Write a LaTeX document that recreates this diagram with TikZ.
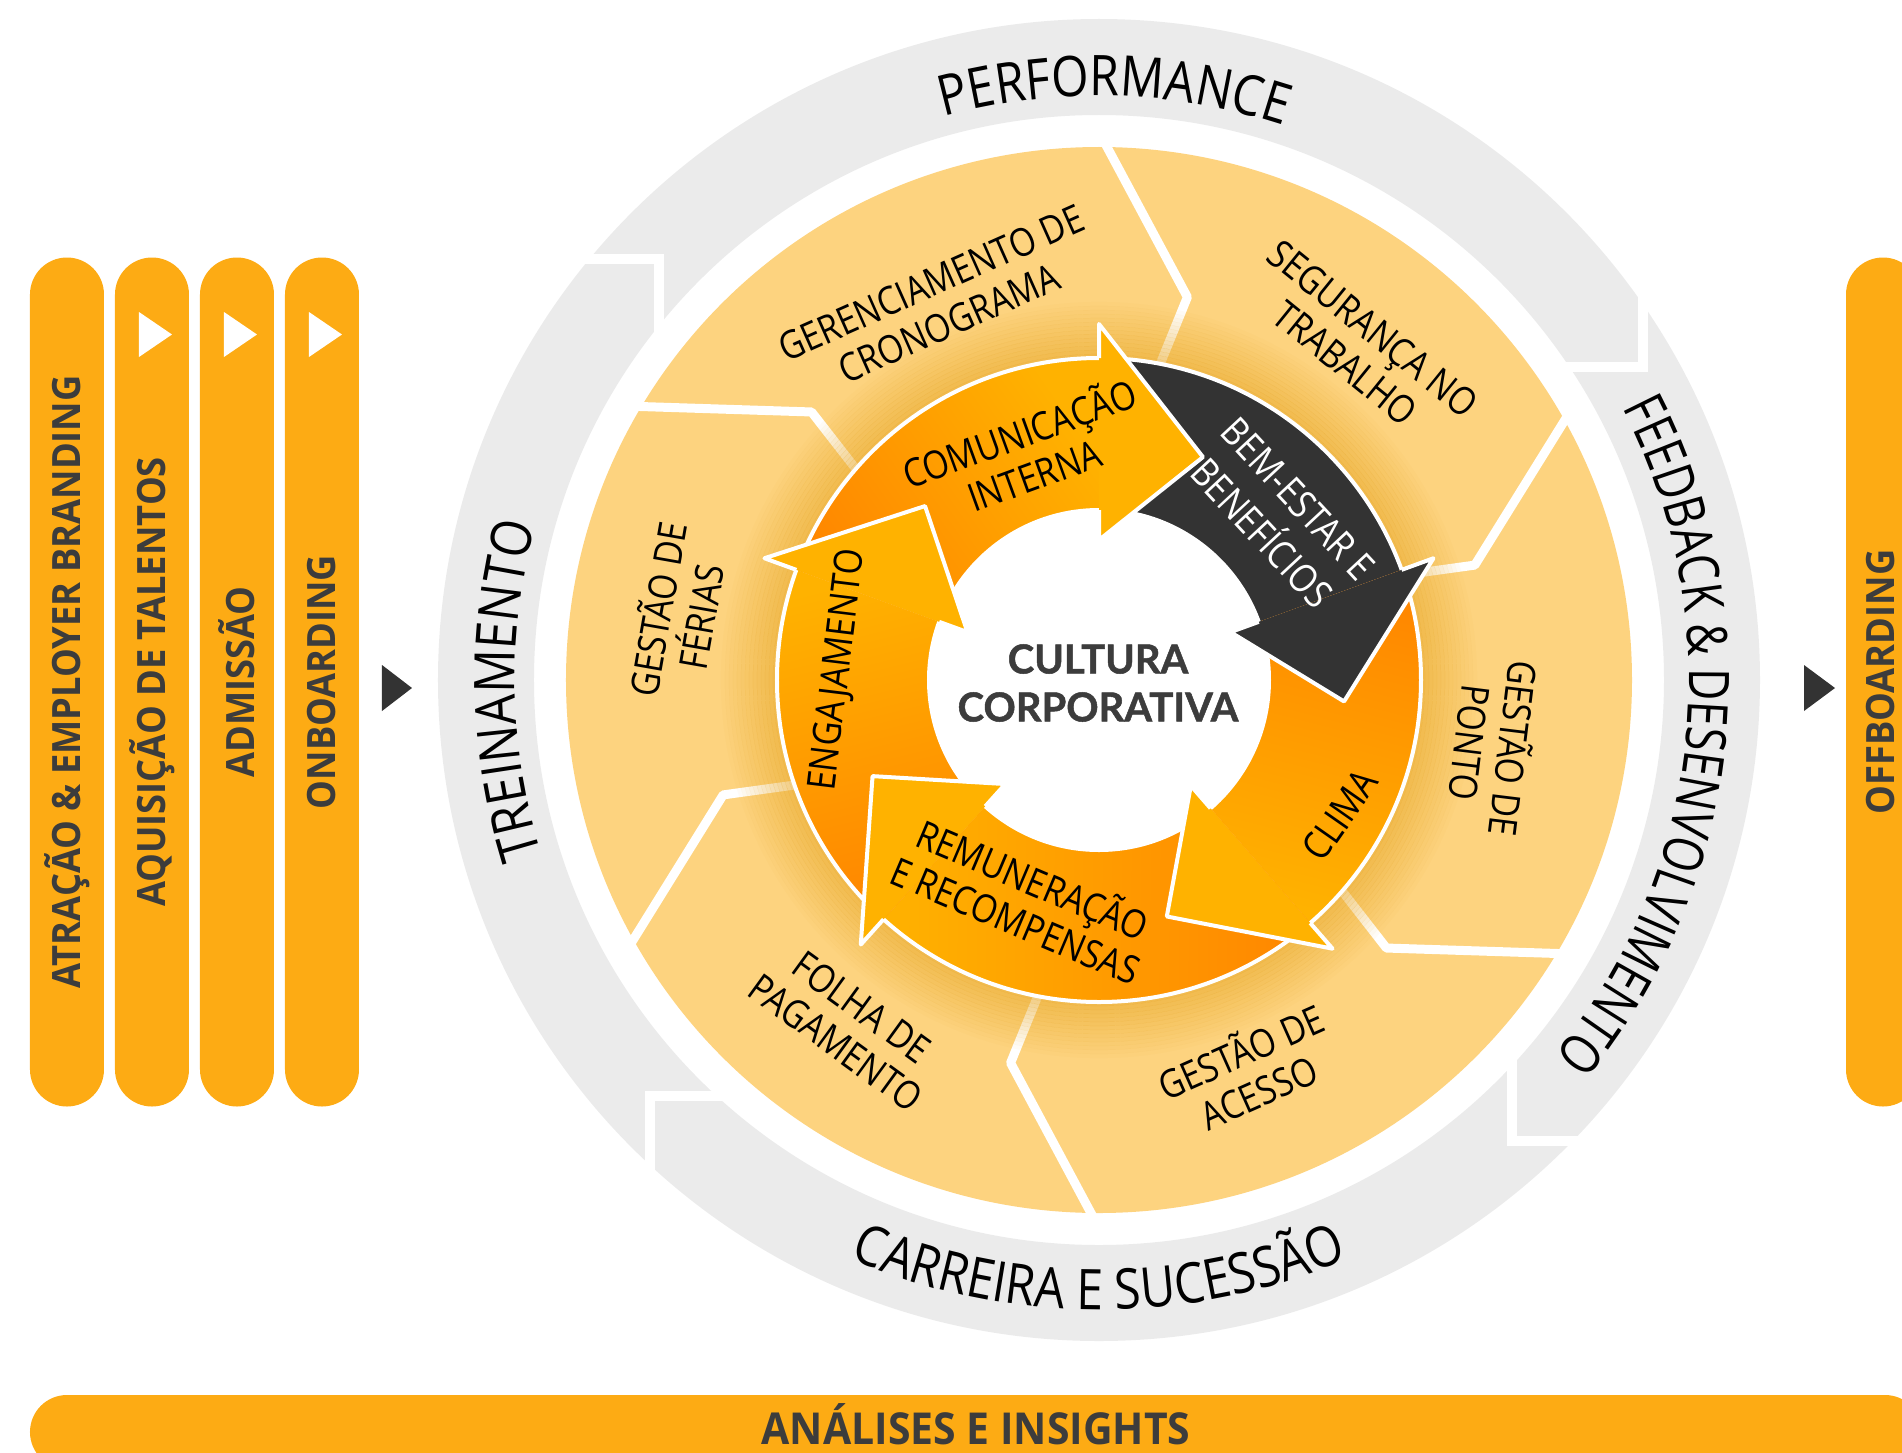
\documentclass[tikz,border=0pt]{standalone}
\usepackage{fontspec}
\setmainfont{Open Sans}
\newfontfamily\lblfont{Open Sans}[FakeStretch=0.86]
\newfontfamily\narfont{Open Sans}[FakeStretch=0.79]
\newfontfamily\barfont{Open Sans}[FakeStretch=0.93]
\newfontfamily\centfont{Lato}[BoldFeatures={FakeBold=1.2}]
\usetikzlibrary{decorations.text, calc}
\definecolor{hr_bar}{RGB}{253,171,20}
\definecolor{hr_text}{RGB}{60,60,60}
\definecolor{hr_ring}{RGB}{235,235,235}
\definecolor{hr_light}{RGB}{253,211,127}
\definecolor{hr_glow}{RGB}{232,168,40}
\definecolor{hr_org}{RGB}{255,178,0}
\definecolor{hr_deep}{RGB}{255,134,0}
\definecolor{hr_dark}{RGB}{51,51,51}

\begin{document}
\begin{tikzpicture}[x=1pt, y=1pt,
    bar/.style={fill=hr_bar, rounded corners=37pt, minimum width=849,
                minimum height=74, inner sep=0pt},
    bartxt/.style={text=hr_text, inner sep=0pt,
                font=\barfont\bfseries\fontsize{39}{40}\selectfont},
    gap/.style={draw=white, line width=10},
    sep/.style={draw=white, line width=9, line join=round},
    ringtxt/.style={decorate, decoration={text along path, text align=center,
                text={|\lblfont\fontsize{56}{60}\selectfont|#1}}},
    lbl/.style={font=\lblfont\fontsize{39}{44}\selectfont, align=center, inner sep=0pt},
    cen/.style={font=\centfont\bfseries\fontsize{40}{48}\selectfont,
                text=hr_text, align=center}]
  \useasboundingbox (-1099,-772) rectangle (803,680);

  \node[bar, rotate=90] (attr) at (-1032,-2) {};
  \node[bar, rotate=90] (acq) at (-947,-2) {};
  \node[bar, rotate=90] (adm) at (-862,-2) {};
  \node[bar, rotate=90] (onb) at (-777,-2) {};
  \node[bar, rotate=90] (off) at (784,-2) {};
  \node[bar, minimum width=1892] (ana) at (-123,-752) {};
  \node[bartxt, rotate=90] (attr-t) at (attr) {ATRAÇÃO \& EMPLOYER BRANDING};
  \node[bartxt, rotate=90] (acq-t) at (acq) {AQUISIÇÃO DE TALENTOS};
  \node[bartxt, rotate=90] (adm-t) at (adm) {ADMISSÃO};
  \node[bartxt, rotate=90] (onb-t) at (onb) {ONBOARDING};
  \node[bartxt, rotate=90] (off-t) at ($(off)+(-2,0)$) {OFFBOARDING};
  \node[bartxt, font=\barfont\bfseries\fontsize{44}{46}\selectfont] (ana-t)
    at ($(ana)+(0,8)$) {ANÁLISES E INSIGHTS};
  \foreach \b in {acq,adm,onb}
    \fill[white] ($(\b.center)+(-13,370)$) -- ++(0,-45) -- ++(33,22.5) -- cycle;
  \fill[hr_dark] ($(onb.center)+(60,17)$) -- ++(0,-46) -- ++(30,23) -- cycle;
  \fill[hr_dark] ($(off.center)+(-79,17)$) -- ++(0,-46) -- ++(31,23) -- cycle;

  \fill[hr_ring, even odd rule] (0,0) circle[radius=661] circle[radius=565];
  \draw[gap] (-530,421) -- (-440,421) -- (-440,340);
  \draw[gap] (544,395) -- (544,313) -- (455,313);
  \draw[gap] (413,-370) -- (413,-461) -- (495,-461);
  \draw[gap] (-368,-416) -- (-449,-416) -- (-449,-505);
  \path[ringtxt={PERFORMANCE}] (140:584) arc[start angle=140, end angle=37, radius=584];
  \path[ringtxt={TREINAMENTO}] (230:584) arc[start angle=230, end angle=132, radius=584];
  \path[decorate, decoration={text along path, text align=center,
      text={|\narfont\fontsize{56}{60}\selectfont|FEEDBACK {\&} DESENVOLVIMENTO}}]
    (56:590) arc[start angle=56, end angle=-68, radius=590];
  \path[ringtxt={CARREIRA E SUCESSÃO}] (240:630) arc[start angle=240, end angle=300, radius=630];

  \fill[hr_light, even odd rule] (0,0) circle[radius=533] circle[radius=315];
  \foreach \a in {90,30,-30,-90,-150,150}
    \draw[sep] (\a:548) -- ({\a-13}:393) -- ({\a-10.6}:312);
  \foreach \k in {1,...,14}
    \draw[hr_glow, line width=4.2, draw opacity={0.6-0.04*\k}] (0,0) circle[radius={320+4*\k}];

  \foreach \p/\b/\ca/\cb in {160/90/hr_org/hr_deep, 90/20/hr_dark/hr_dark,
      20/-49/hr_org/hr_deep, -49/-132/hr_org/hr_deep, 228/160/hr_org/hr_deep} {
    \pgfmathsetmacro\sa{(\p+\b)/2-180}
    \shade[top color=\ca, bottom color=\cb, shading angle=\sa]
      (\p:322) arc[start angle=\p, end angle=\b, radius=322]
      -- (\b:170) arc[start angle=\b, end angle=\p, radius=170] -- cycle;
  }
  \draw[white, line width=4] (0,0) circle[radius=322] (0,0) circle[radius=170];
  \foreach \b/\c in {90/hr_org, 20/hr_dark, -49/hr_org, -132/hr_org, 160/hr_org} {
    \fill[\c] (\b:322) -- (\b:356) -- ({\b-25}:246) -- (\b:140) -- (\b:170) -- cycle;
    \draw[white, line width=4, line join=round]
      (\b:322) -- (\b:356) -- ({\b-25}:246) -- (\b:140) -- (\b:170);
  }

  \node[lbl, rotate=24] (crono) at (-159,377) {GERENCIAMENTO DE\\CRONOGRAMA};
  \node[lbl, rotate=-39] (seg) at (260,334) {SEGURANÇA NO\\TRABALHO};
  \node[lbl, rotate=-97] (ponto) at (395,-66) {GESTÃO DE\\PONTO};
  \node[lbl, rotate=24] (acesso) at (150,-390) {GESTÃO DE\\ACESSO};
  \node[lbl, rotate=-36] (folha) at (-250,-345) {FOLHA DE\\PAGAMENTO};
  \node[lbl, rotate=80] (ferias) at (-422,67) {GESTÃO DE\\FÉRIAS};
  \node[lbl, rotate=20] (comu) at (-73,228) {COMUNICAÇÃO\\INTERNA};
  \node[lbl, rotate=-47, text=white] (bem) at (181,164) {BEM-ESTAR E\\[6pt]BENEFÍCIOS};
  \node[lbl, rotate=55] (clima) at (241,-135) {CLIMA};
  \node[lbl, rotate=-23] (remu) at (-74,-218) {REMUNERAÇÃO\\E RECOMPENSAS};
  \node[lbl, rotate=83] (engaj) at (-260,10) {ENGAJAMENTO};
  \node[cen] (cult) at (-1,-3) {CULTURA\\CORPORATIVA};
\end{tikzpicture}
\end{document}
